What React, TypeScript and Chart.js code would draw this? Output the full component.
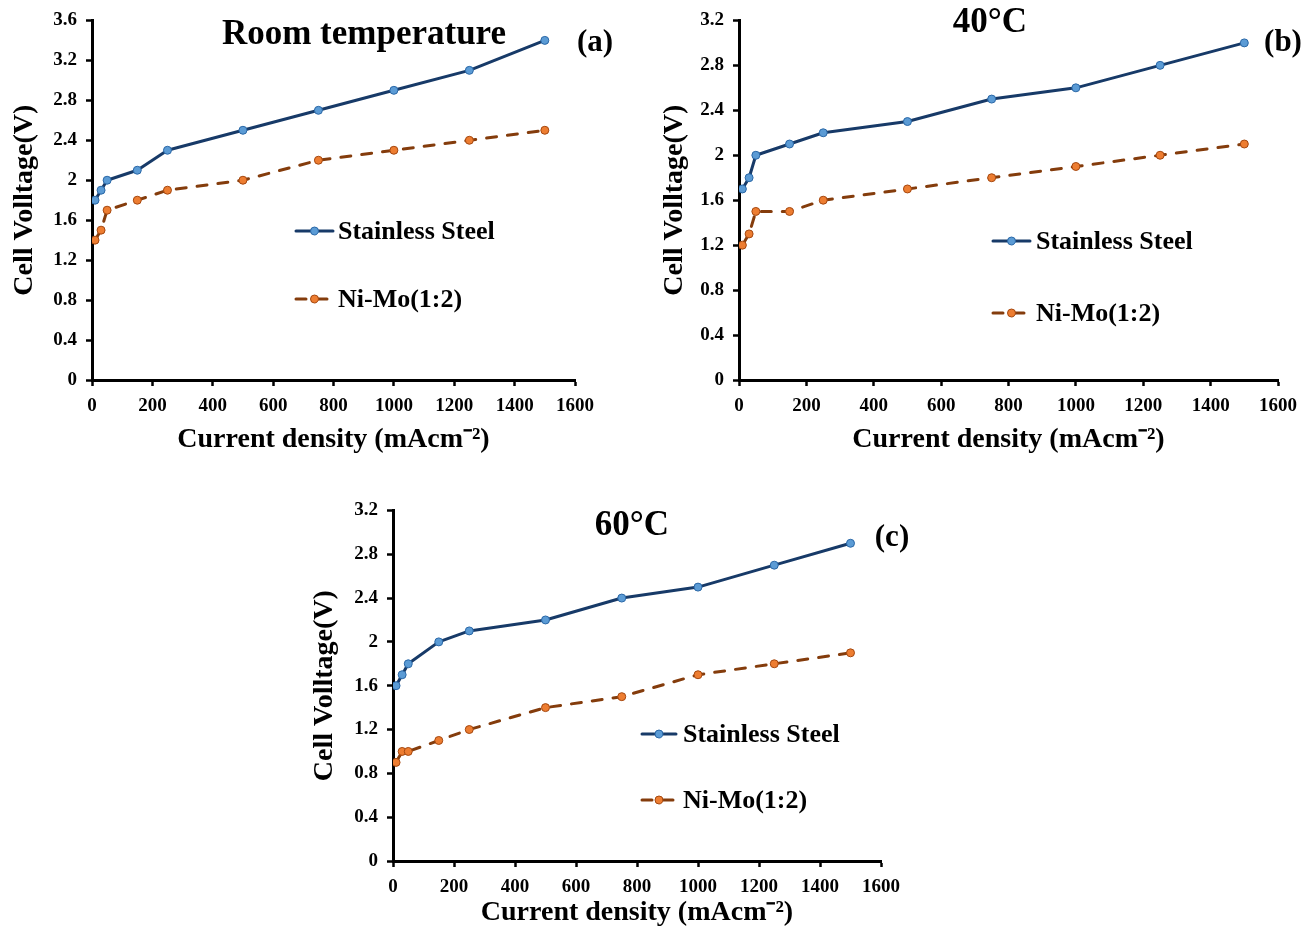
import React, { useEffect, useRef } from 'react';
import { Chart, registerables } from 'chart.js';

Chart.register(...registerables);

// ---------- data ----------
const currentDensity = [10, 30, 50, 150, 250, 500, 750, 1000, 1250, 1500];

const ssRoom = [1.8, 1.9, 2.0, 2.1, 2.3, 2.5, 2.7, 2.9, 3.1, 3.4];
const niMoRoom = [1.4, 1.5, 1.7, 1.8, 1.9, 2.0, 2.2, 2.3, 2.4, 2.5];

const ss40 = [1.7, 1.8, 2.0, 2.1, 2.2, 2.3, 2.5, 2.6, 2.8, 3.0];
const niMo40 = [1.2, 1.3, 1.5, 1.5, 1.6, 1.7, 1.8, 1.9, 2.0, 2.1];

const ss60 = [1.6, 1.7, 1.8, 2.0, 2.1, 2.2, 2.4, 2.5, 2.7, 2.9];
const niMo60 = [0.9, 1.0, 1.0, 1.1, 1.2, 1.4, 1.5, 1.7, 1.8, 1.9];

const xTickValues = [0, 200, 400, 600, 800, 1000, 1200, 1400, 1600];
const yTicksRoom = [0, 0.4, 0.8, 1.2, 1.6, 2, 2.4, 2.8, 3.2, 3.6];
const yTicksHot = [0, 0.4, 0.8, 1.2, 1.6, 2, 2.4, 2.8, 3.2];

const seriesNames = ['Stainless Steel', 'Ni-Mo(1:2)'];
const panelTitles = ['Room temperature', '40°C', '60°C'];
const panelLabels = ['(a)', '(b)', '(c)'];
const xAxisTitle = 'Current density (mAcm⁻²)';
const yAxisTitle = 'Cell Volltage(V)';

// ---------- styles ----------
const FONT = '"Liberation Serif", "Times New Roman", serif';
const SS_LINE = '#173a68';
const SS_FILL = '#5b9bd5';
const SS_EDGE = '#2a67a6';
const NM_LINE = '#843c0c';
const NM_FILL = '#ed7d31';
const NM_EDGE = '#a4470f';

type PanelCfg = {
  left: number; top: number; width: number; height: number;
  area: { left: number; right: number; top: number; bottom: number };
  yTicks: number[];
  ss: number[]; nm: number[];
  title: string; titlePos: [number, number];
  label: string; labelPos: [number, number];
  legend: { x1: number; x2: number; textX: number; y1: number; y2: number };
};

const panels: PanelCfg[] = [
  {
    left: 0, top: 0, width: 640, height: 460,
    area: { left: 92, right: 575, top: 20, bottom: 380 },
    yTicks: yTicksRoom, ss: ssRoom, nm: niMoRoom,
    title: panelTitles[0], titlePos: [364, 35],
    label: panelLabels[0], labelPos: [595, 43],
    legend: { x1: 296, x2: 333, textX: 338, y1: 231, y2: 299 },
  },
  {
    left: 650, top: 0, width: 656, height: 460,
    area: { left: 89, right: 633, top: 20, bottom: 380 },
    yTicks: yTicksHot, ss: ss40, nm: niMo40,
    title: panelTitles[1], titlePos: [340, 23],
    label: panelLabels[1], labelPos: [633, 43],
    legend: { x1: 343, x2: 380, textX: 386, y1: 241, y2: 313 },
  },
  {
    left: 300, top: 490, width: 620, height: 443,
    area: { left: 93, right: 581, top: 18, bottom: 371 },
    yTicks: yTicksHot, ss: ss60, nm: niMo60,
    title: panelTitles[2], titlePos: [332, 36],
    label: panelLabels[2], labelPos: [592, 48],
    legend: { x1: 342, x2: 376, textX: 383, y1: 244, y2: 310 },
  },
];

function fmt(v: number) {
  return String(Math.round(v * 10) / 10);
}

function Panel({ cfg }: { cfg: PanelCfg }) {
  const ref = useRef<HTMLCanvasElement | null>(null);
  useEffect(() => {
    if (!ref.current) return;
    const a = cfg.area;
    const decor = {
      id: 'decor',
      afterDraw(chart: any) {
        const ctx = chart.ctx as CanvasRenderingContext2D;
        ctx.save();
        ctx.fillStyle = '#000';
        ctx.textAlign = 'center';
        ctx.textBaseline = 'middle';
        ctx.font = `bold 35px ${FONT}`;
        ctx.fillText(cfg.title, cfg.titlePos[0], cfg.titlePos[1]);
        ctx.font = `bold 31px ${FONT}`;
        ctx.fillText(cfg.label, cfg.labelPos[0], cfg.labelPos[1]);
        // legend
        const L = cfg.legend;
        const items = [
          { y: L.y1, ds: chart.data.datasets[0] },
          { y: L.y2, ds: chart.data.datasets[1] },
        ];
        items.forEach(({ y, ds }) => {
          ctx.save();
          ctx.strokeStyle = ds.borderColor;
          ctx.lineWidth = ds.borderWidth;
          ctx.lineCap = 'round';
          ctx.setLineDash(ds.borderDash || []);
          ctx.beginPath();
          ctx.moveTo(L.x1, y);
          ctx.lineTo(L.x2, y);
          ctx.stroke();
          ctx.setLineDash([]);
          ctx.beginPath();
          ctx.arc((L.x1 + L.x2) / 2, y, ds.pointRadius, 0, Math.PI * 2);
          ctx.fillStyle = ds.pointBackgroundColor;
          ctx.fill();
          ctx.lineWidth = ds.pointBorderWidth;
          ctx.strokeStyle = ds.pointBorderColor;
          ctx.stroke();
          ctx.restore();
          ctx.fillStyle = '#000';
          ctx.textAlign = 'left';
          ctx.textBaseline = 'middle';
          ctx.font = `bold 26px ${FONT}`;
          ctx.fillText(ds.label, L.textX, y + 1);
        });
        ctx.restore();
      },
    };

    const tickFont = { family: FONT, size: 19, weight: 'bold' as const };
    const titleFont = { family: FONT, size: 28, weight: 'bold' as const };

    const chart = new Chart(ref.current, {
      type: 'line',
      data: {
        datasets: [
          {
            label: seriesNames[0],
            data: currentDensity.map((x, i) => ({ x, y: cfg.ss[i] })),
            borderColor: SS_LINE,
            borderWidth: 3,
            borderCapStyle: 'round',
            borderJoinStyle: 'round',
            pointRadius: 4,
            pointBackgroundColor: SS_FILL,
            pointBorderColor: SS_EDGE,
            pointBorderWidth: 1,
            tension: 0,
          },
          {
            label: seriesNames[1],
            data: currentDensity.map((x, i) => ({ x, y: cfg.nm[i] })),
            borderColor: NM_LINE,
            borderWidth: 3,
            borderCapStyle: 'round',
            borderJoinStyle: 'round',
            borderDash: [10, 11],
            pointRadius: 4,
            pointBackgroundColor: NM_FILL,
            pointBorderColor: NM_EDGE,
            pointBorderWidth: 1,
            tension: 0,
          },
        ],
      },
      options: {
        animation: false,
        responsive: false,
        maintainAspectRatio: false,
        devicePixelRatio: 1,
        layout: {
          padding: { left: 0, top: a.top, right: cfg.width - a.right, bottom: 0 },
        },
        plugins: {
          legend: { display: false },
          tooltip: { enabled: false },
          title: { display: false },
        },
        scales: {
          x: {
            type: 'linear',
            min: 0,
            max: 1600,
            afterBuildTicks: (s: any) => {
              s.ticks = xTickValues.map((v) => ({ value: v }));
            },
            afterFit: (s: any) => {
              s.height = cfg.height - a.bottom;
            },
            ticks: {
              font: tickFont,
              color: '#000',
              padding: 9,
              maxRotation: 0,
              autoSkip: false,
              callback: (v: any) => fmt(Number(v)),
            },
            grid: {
              display: true,
              drawOnChartArea: false,
              drawTicks: true,
              tickLength: 6,
              tickColor: '#000',
              tickWidth: 2.5,
            },
            border: { display: true, color: '#000', width: 3 },
            title: {
              display: true,
              text: xAxisTitle,
              font: titleFont,
              color: '#000',
              padding: { top: 4, bottom: 3 },
            },
          },
          y: {
            type: 'linear',
            min: 0,
            max: cfg.yTicks[cfg.yTicks.length - 1],
            afterBuildTicks: (s: any) => {
              s.ticks = cfg.yTicks.map((v) => ({ value: v }));
            },
            afterFit: (s: any) => {
              s.width = a.left;
            },
            ticks: {
              font: tickFont,
              color: '#000',
              padding: 9,
              autoSkip: false,
              callback: (v: any) => fmt(Number(v)),
            },
            grid: {
              display: true,
              drawOnChartArea: false,
              drawTicks: true,
              tickLength: 6,
              tickColor: '#000',
              tickWidth: 2.5,
            },
            border: { display: true, color: '#000', width: 3 },
            title: {
              display: true,
              text: yAxisTitle,
              font: titleFont,
              color: '#000',
              padding: { top: 8, bottom: 4 },
            },
          },
        },
      },
      plugins: [decor],
    } as any);
    return () => chart.destroy();
  }, [cfg]);

  return (
    <canvas
      ref={ref}
      width={cfg.width}
      height={cfg.height}
      style={{
        position: 'absolute',
        left: cfg.left,
        top: cfg.top,
        width: cfg.width,
        height: cfg.height,
      }}
    />
  );
}

export default function App() {
  return (
    <div
      style={{
        position: 'absolute',
        left: 0,
        top: 0,
        width: 1306,
        height: 933,
        background: '#fff',
        overflow: 'hidden',
      }}
    >
      {panels.map((p, i) => (
        <Panel key={i} cfg={p} />
      ))}
    </div>
  );
}
